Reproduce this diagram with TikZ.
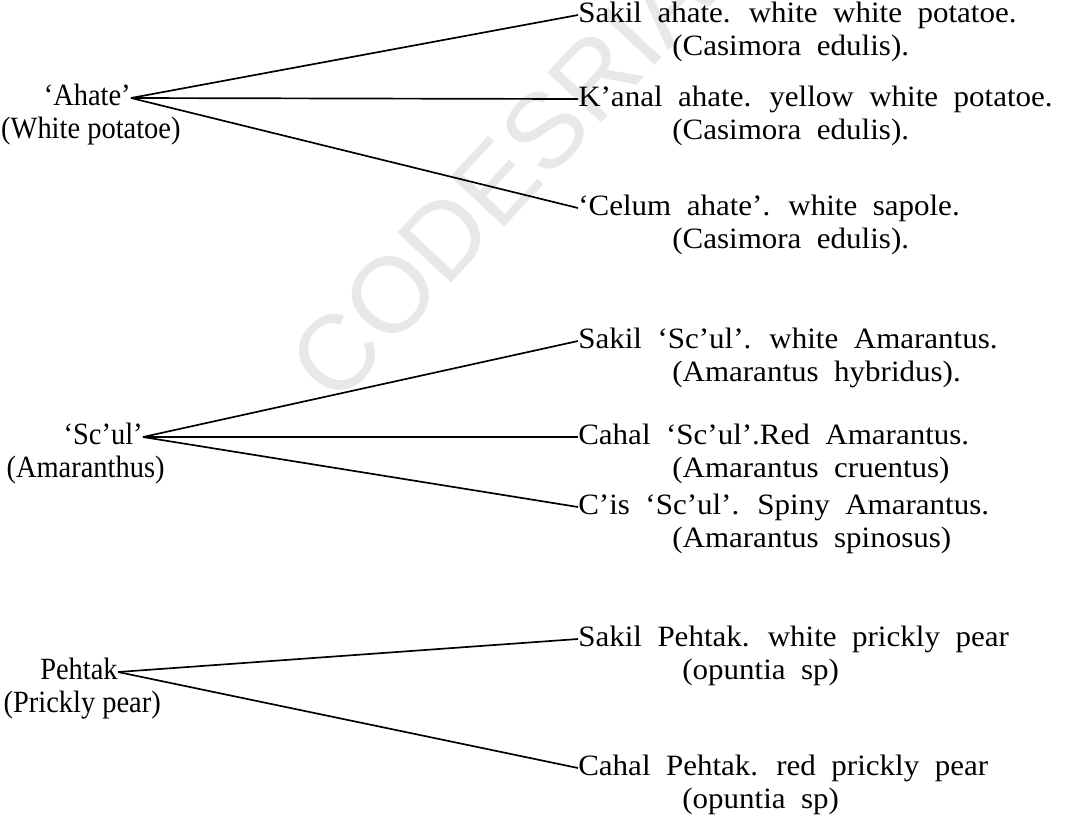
\documentclass[tikz,border=0pt]{standalone}
\usepackage{fontspec}
\setmainfont{Liberation Serif}
\newfontfamily\widefont[FakeStretch=1.05,WordSpace=2.0]{Liberation Serif}
\newfontfamily\narrowfont[FakeStretch=0.92]{Liberation Serif}
\newfontfamily\markfont{Liberation Sans}
\usetikzlibrary{positioning}

\begin{document}
\begin{tikzpicture}[x=0.025cm,y=-0.025cm,
                word/.style={inner sep=0pt,text height=15pt,text depth=5pt,font=\fontsize{22}{24}\narrowfont},
                leaf/.style={word,anchor=west,font=\fontsize{21}{24}\widefont},
                gloss/.style={leaf},
                branch/.style={line width=1.2pt}]
        \useasboundingbox (0,0) rectangle (1067,825);
        \node[rotate=47,text=gray!18,font=\fontsize{76}{76}\markfont] (mark) at (500,178) {CODESRIA};

        \node[word,anchor=east] (ahate) at (131,98) {‘Ahate’};
        \node[word,below=0.12cm of ahate,xshift=0.09cm] (ahategl) {(White potatoe)};
        \node[word,anchor=east] (scul) at (143,437) {‘Sc’ul’};
        \node[word,below=0.12cm of scul,xshift=-0.44cm] (sculgl) {(Amaranthus)};
        \node[word,anchor=east] (pehtak) at (118,672) {Pehtak};
        \node[word,below=0.12cm of pehtak,xshift=0.08cm] (pehtakgl) {(Prickly pear)};

        \node[leaf] (a1) at (578,15) {Sakil ahate. white white potatoe.};
        \node[gloss,below right=0.12cm and 2.35cm of a1.south west] (a1gl) {(Casimora edulis).};
        \node[leaf] (a2) at (578,99) {K’anal ahate. yellow white potatoe.};
        \node[gloss,below right=0.12cm and 2.35cm of a2.south west] (a2gl) {(Casimora edulis).};
        \node[leaf] (a3) at (578,208) {‘Celum ahate’. white sapole.};
        \node[gloss,below right=0.12cm and 2.35cm of a3.south west] (a3gl) {(Casimora edulis).};

        \node[leaf] (s1) at (578,341) {Sakil ‘Sc’ul’. white Amarantus.};
        \node[gloss,below right=0.12cm and 2.35cm of s1.south west] (s1gl) {(Amarantus hybridus).};
        \node[leaf] (s2) at (578,437) {Cahal ‘Sc’ul’.Red Amarantus.};
        \node[gloss,below right=0.12cm and 2.35cm of s2.south west] (s2gl) {(Amarantus cruentus)};
        \node[leaf] (s3) at (578,507) {C’is ‘Sc’ul’. Spiny Amarantus.};
        \node[gloss,below right=0.12cm and 2.35cm of s3.south west] (s3gl) {(Amarantus spinosus)};

        \node[leaf] (p1) at (578,639) {Sakil Pehtak. white prickly pear};
        \node[gloss,below right=0.12cm and 2.6cm of p1.south west] (p1gl) {(opuntia sp)};
        \node[leaf] (p2) at (578,768) {Cahal Pehtak. red prickly pear};
        \node[gloss,below right=0.12cm and 2.6cm of p2.south west] (p2gl) {(opuntia sp)};

        \draw[branch] (ahate.east) -- (a1.west);
        \draw[branch] (ahate.east) -- (a2.west);
        \draw[branch] (ahate.east) -- (a3.west);
        \draw[branch] (scul.east) -- (s1.west);
        \draw[branch] (scul.east) -- (s2.west);
        \draw[branch] (scul.east) -- (s3.west);
        \draw[branch] (pehtak.east) -- (p1.west);
        \draw[branch] (pehtak.east) -- (p2.west);
\end{tikzpicture}
\end{document}
